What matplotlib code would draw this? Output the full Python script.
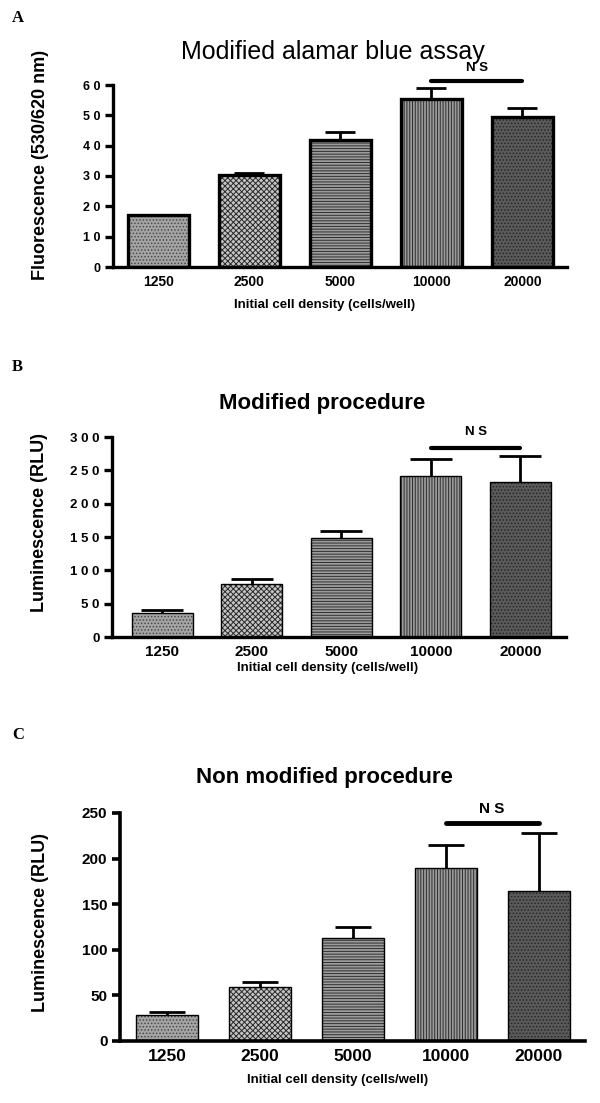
import matplotlib
matplotlib.use('Agg')
import matplotlib.pyplot as plt
import numpy as np

plt.rcParams['font.family'] = ['Liberation Sans', 'DejaVu Sans']
plt.rcParams['hatch.linewidth'] = 0.7

#%% data
densities = ['1250', '2500', '5000', '10000', '20000']

alamar_mean = [17, 30.4, 41.9, 55.5, 49.3]
alamar_sem = [0, 0.6, 2.6, 3.5, 3.1]

mod_mean = [36, 79, 149, 242, 233]
mod_sem = [4, 8, 10, 25, 38]

nonmod_mean = [28.5, 59, 113, 190, 165]
nonmod_sem = [3.5, 6, 12, 25, 63]

yticks_a = [0, 10, 20, 30, 40, 50, 60]
yticks_b = [0, 50, 100, 150, 200, 250, 300]
yticks_c = [0, 50, 100, 150, 200, 250]

facecols = ['#a4a4a4', '#c4c4c4', '#9c9c9c', '#9a9a9a', '#5a5a5a']
hatchcols = ['#4a4a4a', '#2a2a2a', '#2e2e2e', '#2e2e2e', '#262626']
hatches = ['.....', 'xxxxxx', '------', '||||||', '.....']

W, H = 600, 1103
fig = plt.figure(figsize=(W / 100, H / 100), dpi=100)


def px_axes(left, top, right, bottom):
    return fig.add_axes([left / W, 1 - bottom / H, (right - left) / W, (bottom - top) / H])


def ftext(x, y, s, **kw):
    fig.text(x / W, 1 - y / H, s, **kw)


def draw_panel(ax, means, sems, yticks, ylim, xlim, width, edge_lw, spine_lw,
               xt_size, yt_size, ytick_labels, capsize, ns_y, ns_lw):
    x = np.arange(len(densities))
    for i in range(len(densities)):
        # filled + hatched body, then black outline on top
        ax.bar(x[i], means[i], width=width, color=facecols[i], edgecolor=hatchcols[i],
               linewidth=0, hatch=hatches[i], zorder=2)
        ax.bar(x[i], means[i], width=width, fill=False, edgecolor='black',
               linewidth=edge_lw, zorder=2.5)
    err = np.array(sems)
    _, caps, _ = ax.errorbar(x, means, yerr=[np.zeros_like(err), err], fmt='none',
                             ecolor='black', elinewidth=2, capsize=capsize, capthick=2,
                             zorder=3)
    caps[0].set_visible(False)  # only the upper cap
    ax.set_xlim(*xlim)
    ax.set_ylim(*ylim)
    ax.set_yticks(yticks)
    ax.set_yticklabels(ytick_labels, fontsize=yt_size, fontweight='bold')
    ax.set_xticks(x)
    ax.set_xticklabels(densities, fontsize=xt_size, fontweight='bold')
    ax.tick_params(axis='x', length=0, pad=6)
    ax.tick_params(axis='y', length=6, width=spine_lw, pad=3)
    for s in ['top', 'right']:
        ax.spines[s].set_visible(False)
    for s in ['left', 'bottom']:
        ax.spines[s].set_linewidth(spine_lw)
    ax.spines['left'].set_bounds(0, yticks[-1])
    # NS bar between 10000 and 20000
    ax.plot([3.0, 4.0], [ns_y, ns_y], color='black', lw=ns_lw, solid_capstyle='round',
            clip_on=False, zorder=4)


#%% panel A
axA = px_axes(113, 85, 567, 267)
draw_panel(axA, alamar_mean, alamar_sem, yticks_a, (0, 60), (-0.495, 4.49), 0.67, 2.4, 2.4,
           10, 9, ['0'] + ['%s %s' % (str(v)[0], str(v)[1]) for v in yticks_a[1:]], 11, 61.4, 3)
axA.text(3.5, 63.6, 'N S', ha='center', va='bottom', fontsize=9.5, fontweight='bold')
ftext(12, 18, 'A', fontsize=12, fontweight='bold', family='Liberation Serif', ha='left', va='center')
ftext(333, 52, 'Modified alamar blue assay', fontsize=18, ha='center', va='center')
ftext(325, 305, 'Initial cell density (cells/well)', fontsize=9.5, fontweight='bold', ha='center', va='center')
ftext(41, 165, 'Fluorescence (530/620 nm)', fontsize=13, fontweight='bold', rotation=90,
      ha='center', va='center')

#%% panel B
axB = px_axes(112, 437, 566, 637)
draw_panel(axB, mod_mean, mod_sem, yticks_b, (0, 300), (-0.56, 4.51), 0.68, 1.0, 2.4,
           11, 9.5, ['0'] + [' '.join(str(v)) for v in yticks_b[1:]], 15, 283.5, 3)
axB.text(3.5, 298, 'N S', ha='center', va='bottom', fontsize=9.5, fontweight='bold')
ftext(12, 367, 'B', fontsize=12, fontweight='bold', family='Liberation Serif', ha='left', va='center')
ftext(322, 403, 'Modified procedure', fontsize=16, fontweight='bold', ha='center', va='center')
ftext(328, 668, 'Initial cell density (cells/well)', fontsize=9.5, fontweight='bold', ha='center', va='center')
ftext(40, 522, 'Luminescence (RLU)', fontsize=13, fontweight='bold', rotation=90,
      ha='center', va='center')

#%% panel C
axC = px_axes(120, 813, 585, 1041)
draw_panel(axC, nonmod_mean, nonmod_sem, yticks_c, (0, 250), (-0.51, 4.5), 0.67, 1.0, 2.6,
           12.5, 11, [str(v) for v in yticks_c], 13, 239, 3.5)
axC.text(3.5, 247, 'N S', ha='center', va='bottom', fontsize=11, fontweight='bold')
ftext(12, 735, 'C', fontsize=12, fontweight='bold', family='Liberation Serif', ha='left', va='center')
ftext(324, 777, 'Non modified procedure', fontsize=16, fontweight='bold', ha='center', va='center')
ftext(338, 1080, 'Initial cell density (cells/well)', fontsize=9.5, fontweight='bold', ha='center', va='center')
ftext(41, 923, 'Luminescence (RLU)', fontsize=13, fontweight='bold', rotation=90,
      ha='center', va='center')

fig.savefig('out.png', dpi=100)
